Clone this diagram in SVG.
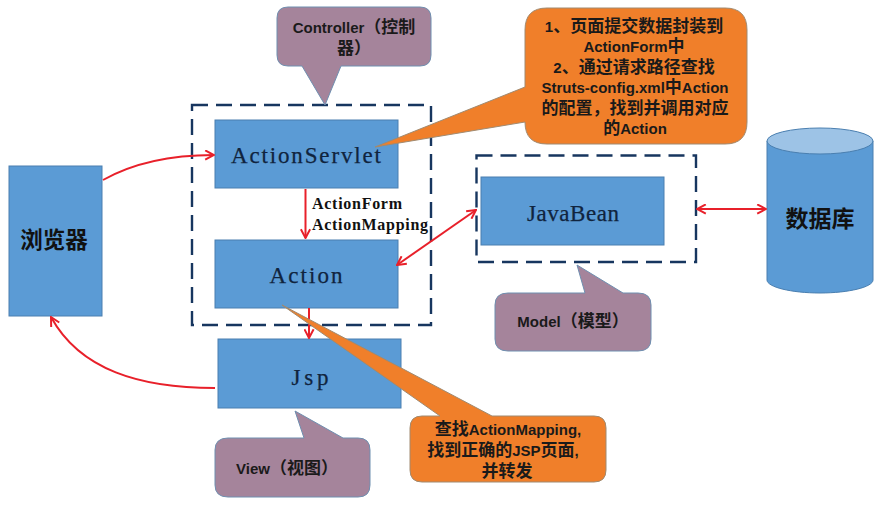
<svg xmlns="http://www.w3.org/2000/svg" width="885" height="528" viewBox="0 0 885 528">
<style>
.box{fill:#5b9bd5;stroke:#4a7fb0;stroke-width:1}
.dash{fill:none;stroke:#17365f;stroke-width:2.4;stroke-dasharray:16 8}
.purple{fill:#a5849b;stroke:#6f8fb0;stroke-width:1}
.orange{fill:#f07f2a;stroke:#a08a70;stroke-width:1}
.con{fill:none;stroke:#e8202a;stroke-width:2}
.mono{font-family:"Liberation Serif",serif;fill:#10243e;text-anchor:middle;font-size:23px;stroke:#10243e;stroke-width:.25}
.lab{font-family:"Liberation Serif",serif;font-weight:700;fill:#111;font-size:16px}
.cjk{font-family:"Liberation Sans","Noto Sans CJK SC",sans-serif;font-weight:700;fill:#1a1a1a;text-anchor:middle;font-size:15px}
.cjk tspan{font-family:"Noto Sans CJK SC",sans-serif;font-size:17px}
.big{font-family:"Noto Sans CJK SC",sans-serif;font-weight:700;fill:#111;text-anchor:middle;font-size:22.500px}
</style>
<defs>
<marker id="end" viewBox="0 0 10 10" refX="9" refY="5" markerWidth="11" markerHeight="11" markerUnits="userSpaceOnUse" orient="auto-start-reverse"><path d="M1 0.8L9 5L1 9.2" fill="none" stroke="#e8202a" stroke-width="1.8"/></marker>
</defs>
<rect width="885" height="528" fill="#fff"/>
<g id="controller-frame"><rect class="dash" x="192" y="105" width="239" height="220"/></g>
<g id="model-frame"><rect class="dash" x="476.500" y="155.500" width="219.500" height="106.500"/></g>
<g id="browser"><rect class="box" x="9" y="166" width="93" height="150"/><text class="big" x="54" y="248">浏览器</text></g>
<g id="actionservlet"><rect class="box" x="215" y="120" width="183" height="68"/><text class="mono" x="306" y="163" textLength="150" lengthAdjust="spacing">ActionServlet</text></g>
<g id="action"><rect class="box" x="215" y="240" width="183" height="68"/><text class="mono" x="306" y="283" textLength="73" lengthAdjust="spacing">Action</text></g>
<g id="jsp"><rect class="box" x="218" y="339" width="183" height="69"/><text class="mono" x="310" y="385" textLength="37" lengthAdjust="spacing">Jsp</text></g>
<g id="javabean"><rect class="box" x="481" y="177" width="183" height="68"/><text class="mono" x="573" y="221" textLength="92" lengthAdjust="spacing">JavaBean</text></g>
<g id="database">
<path class="box" d="M767 141V280C767 287 791 293 820 293S873 287 873 280V141Z"/>
<ellipse cx="820" cy="141" rx="53" ry="13" fill="#9dc3e6" stroke="#4a7fb0"/>
<text class="big" x="820" y="227" style="font-size:23px">数据库</text>
</g>
<g id="connectors">
<path class="con" d="M103 180C135 162 175 155 214 155" marker-end="url(#end)"/>
<path class="con" d="M215 388C140 388 80 370 51 317" marker-end="url(#end)"/>
<path class="con" d="M305.500 189V238" marker-end="url(#end)"/>
<path class="con" d="M309 308V338" marker-end="url(#end)"/>
<path class="con" d="M397 265L476 210" marker-start="url(#end)" marker-end="url(#end)"/>
<path class="con" d="M697 209H766" marker-start="url(#end)" marker-end="url(#end)"/>
</g>
<text class="lab" x="312" y="209" textLength="90" lengthAdjust="spacing">ActionForm</text>
<text class="lab" x="312" y="230" textLength="116" lengthAdjust="spacing">ActionMapping</text>
<g id="controller-note">
<path class="purple" d="M288 7H420Q431 7 431 18V55Q431 66 420 66H341L325 105L302 66H288Q277 66 277 55V18Q277 7 288 7Z"/>
<text class="cjk" x="354" y="33">Controller<tspan>（控制</tspan></text>
<text class="cjk" x="354" y="54"><tspan>器）</tspan></text>
</g>
<g id="servlet-note">
<path class="orange" d="M547 8H725Q747 8 747 30V122Q747 144 725 144H547Q525 144 525 122L375 147L525 87V30Q525 8 547 8Z"/>
<text class="cjk" x="634" y="32">1<tspan>、页面提交数据封装到</tspan></text>
<text class="cjk" x="634" y="52">ActionForm<tspan>中</tspan></text>
<text class="cjk" x="634" y="73">2<tspan>、通过请求路径查找</tspan></text>
<text class="cjk" x="635" y="93">Struts-config.xml<tspan>中</tspan>Action</text>
<text class="cjk" x="635" y="114"><tspan>的配置，找到并调用对应</tspan></text>
<text class="cjk" x="635" y="134"><tspan>的</tspan>Action</text>
</g>
<g id="model-note">
<path class="purple" d="M508 293H585L577 265L623 293H638Q651 293 651 305V339Q651 351 638 351H508Q495 351 495 339V305Q495 293 508 293Z"/>
<text class="cjk" x="573" y="327">Model<tspan>（模型）</tspan></text>
</g>
<g id="view-note">
<path class="purple" d="M228 438H304L295 411L343 438H358Q370 438 370 450V485Q370 497 358 497H228Q215 497 215 485V450Q215 438 228 438Z"/>
<text class="cjk" x="287" y="474">View<tspan>（视图）</tspan></text>
</g>
<g id="action-note">
<path class="orange" d="M422 416H440L282 305L492 416H594Q606 416 606 428V470Q606 482 594 482H422Q410 482 410 470V428Q410 416 422 416Z"/>
<text class="cjk" x="508" y="435"><tspan>查找</tspan>ActionMapping,</text>
<text class="cjk" x="503" y="456"><tspan>找到正确的</tspan>JSP<tspan>页面</tspan>,</text>
<text class="cjk" x="507" y="477"><tspan>并转发</tspan></text>
</g>
</svg>
